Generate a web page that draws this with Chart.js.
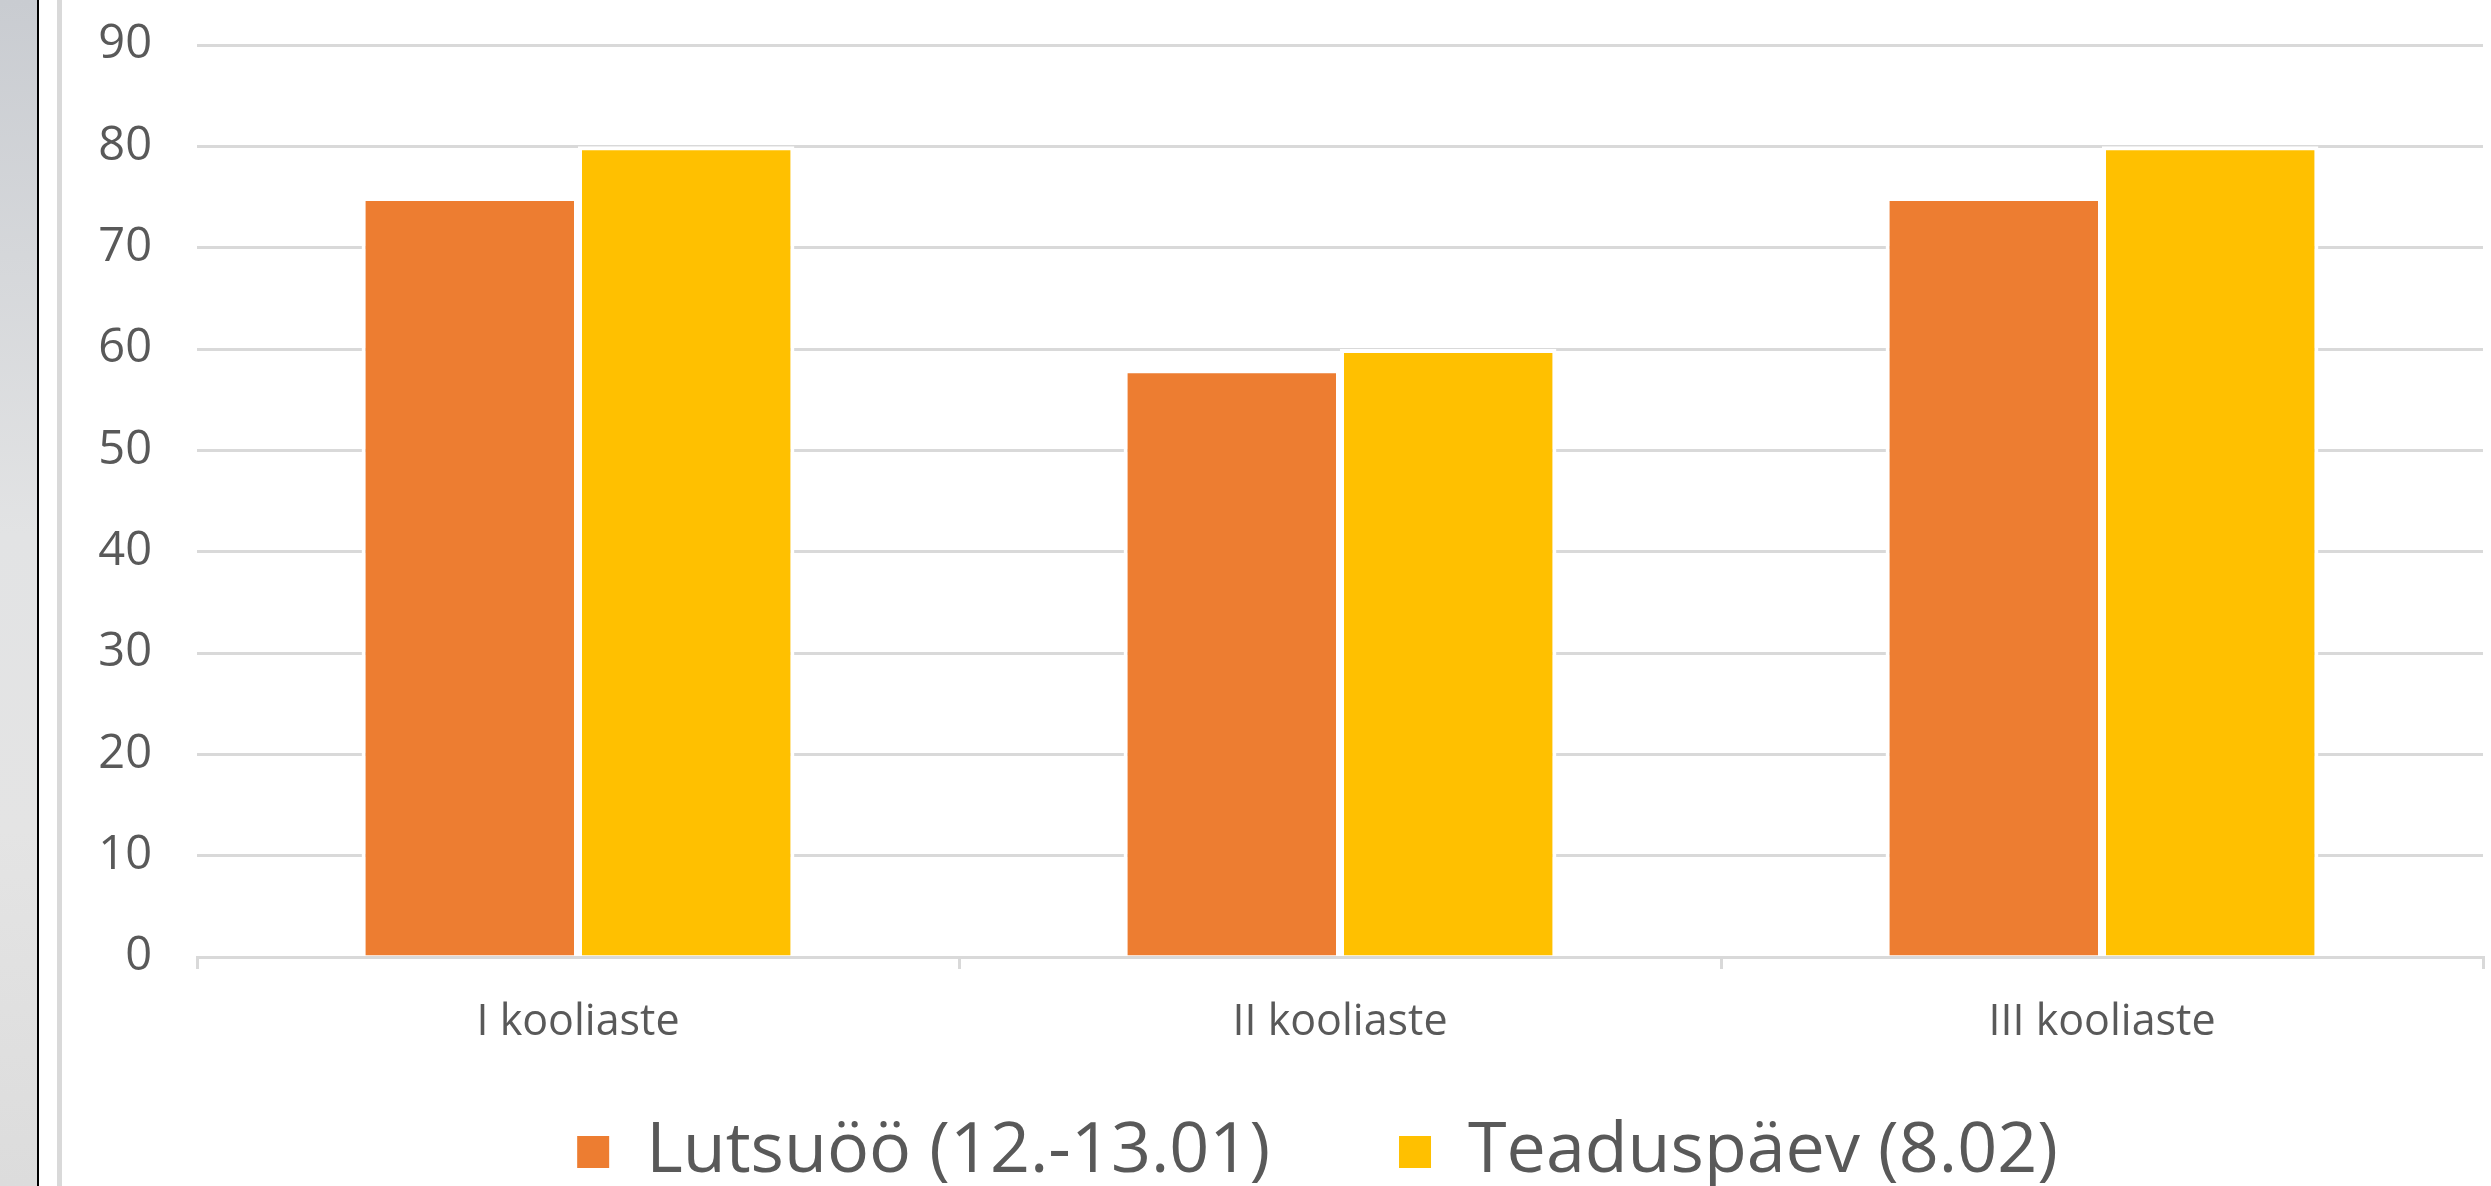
<!DOCTYPE html>
<html lang="et">
<head>
    <meta charset="UTF-8">
    <title>Koolastmed</title>
    <script src="https://cdnjs.cloudflare.com/ajax/libs/Chart.js/4.4.1/chart.umd.min.js"></script>
    <style>
        body {
            margin: 0;
            width: 2491px;
            height: 1186px;
            overflow: hidden;
            background: #ffffff;
            position: relative;
        }

        .side-strip {
            position: absolute;
            left: 0;
            top: 0;
            width: 37px;
            height: 1186px;
            background: linear-gradient(180deg, #c9ccd1 0%, #e2e3e4 45%, #e4e4e4 70%, #dcdcdc 100%);
            border-right: 2px solid #000;
        }

        .side-line {
            position: absolute;
            left: 57px;
            top: 0;
            width: 5px;
            height: 1186px;
            background: #d9d9d9;
        }

        .chart-box {
            position: absolute;
            left: 62px;
            top: 0;
            width: 2429px;
            height: 1186px;
        }
    </style>
</head>
<body>
    <div class="side-strip"></div>
    <div class="side-line"></div>
    <div class="chart-box">
        <canvas id="schoolChart"></canvas>
    </div>

    <script>
        const categories = ['I kooliaste', 'II kooliaste', 'III kooliaste'];
        const lutsuooValues = [75, 58, 75];
        const teaduspaevValues = [80, 60, 80];
        const seriesNames = ['Lutsuöö (12.-13.01)', 'Teaduspäev (8.02)'];
        const yTicks = [0, 10, 20, 30, 40, 50, 60, 70, 80, 90];

        const textGray = '#595959';
        const lineGray = '#d9d9d9';
        const legendGap = 127;
        const legendShiftX = 44;
        const legendShiftY = -67;

        // Excel puts the legend a bit right of (and closer to the labels than) Chart.js would.
        // Only the top moves up so the legend's clip box still reaches the bottom.
        const nudgeLegend = {
            id: 'nudgeLegend',
            afterLayout(chart) {
                const lg = chart.legend;
                lg.left += legendShiftX;
                lg.right += legendShiftX;
                lg.top += legendShiftY;
            }
        };

        const ctx = document.getElementById('schoolChart').getContext('2d');
        new Chart(ctx, {
            type: 'bar',
            data: {
                labels: categories,
                datasets: [{
                    label: seriesNames[0],
                    data: lutsuooValues,
                    backgroundColor: '#ed7d31',
                    borderColor: '#ffffff',
                    borderWidth: 4
                }, {
                    label: seriesNames[1],
                    data: teaduspaevValues,
                    backgroundColor: '#ffc000',
                    borderColor: '#ffffff',
                    borderWidth: 4
                }]
            },
            options: {
                responsive: true,
                maintainAspectRatio: false,
                animation: false,
                categoryPercentage: 0.568,
                barPercentage: 1,
                layout: {
                    padding: { top: 45, right: 8, left: 0, bottom: 0 }
                },
                plugins: {
                    tooltip: { enabled: false },
                    legend: {
                        position: 'bottom',
                        maxHeight: 129,
                        labels: {
                            color: textGray,
                            font: { family: 'Open Sans', size: 70 },
                            boxWidth: 36,
                            boxHeight: 36,
                            padding: legendGap
                        }
                    }
                },
                scales: {
                    x: {
                        afterFit(scale) { scale.height = 100; },
                        border: { color: lineGray, width: 3 },
                        grid: {
                            drawOnChartArea: false,
                            color: lineGray,
                            lineWidth: 3,
                            tickLength: 12
                        },
                        ticks: {
                            color: textGray,
                            font: { family: 'Open Sans', size: 43 },
                            padding: 28,
                            maxRotation: 0
                        }
                    },
                    y: {
                        min: 0,
                        max: 90,
                        afterFit(scale) {
                            scale.width = 135;
                            // the big tick padding is horizontal only, don't let it push the top down
                            scale.paddingTop = 0;
                            scale.paddingBottom = 0;
                        },
                        afterBuildTicks(scale) {
                            scale.ticks = yTicks.map(v => ({ value: v }));
                        },
                        border: { display: false },
                        grid: {
                            color: lineGray,
                            lineWidth: 3,
                            drawTicks: false
                        },
                        ticks: {
                            color: textGray,
                            font: { family: 'Open Sans', size: 47 },
                            padding: 45
                        }
                    }
                }
            },
            plugins: [nudgeLegend]
        });
    </script>
</body>
</html>
